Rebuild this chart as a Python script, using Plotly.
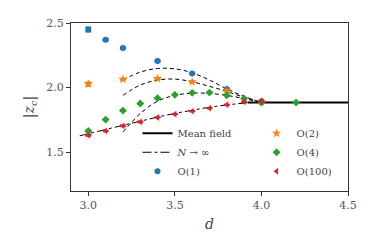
import plotly.graph_objects as go

# ---- data ----
d_o1 = [3.0, 3.1, 3.2, 3.4, 3.6, 3.8, 4.0]
z_o1 = [2.45, 2.37, 2.306, 2.205, 2.11, 1.99, 1.895]
e_o1 = [0.018, 0.008, 0.006, 0.005, 0.004, 0.004, 0.003]

d_o2 = [3.0, 3.2, 3.4, 3.6, 3.8, 4.0]
z_o2 = [2.027, 2.064, 2.07, 2.045, 1.975, 1.89]
e_o2 = [0.015, 0.005, 0.005, 0.004, 0.004, 0.003]

d_o4 = [3.0, 3.1, 3.2, 3.3, 3.4, 3.5, 3.6, 3.7, 3.8, 3.9, 4.0, 4.2]
z_o4 = [1.665, 1.753, 1.822, 1.877, 1.918, 1.944, 1.96, 1.962, 1.94, 1.916, 1.885, 1.885]
e_o4 = [0.006, 0.004, 0.004, 0.004, 0.003, 0.003, 0.003, 0.003, 0.003, 0.003, 0.003, 0.003]

d_o100 = [3.0, 3.1, 3.2, 3.3, 3.4, 3.5, 3.6, 3.7, 3.8, 3.9, 4.0]
z_o100 = [1.632, 1.665, 1.704, 1.735, 1.769, 1.795, 1.818, 1.841, 1.867, 1.89, 1.895]
e_o100 = [0.006, 0.004, 0.004, 0.004, 0.003, 0.003, 0.003, 0.003, 0.003, 0.003, 0.003]

# dashed expansion curves
d_c1 = [3.2, 3.3, 3.4, 3.5, 3.6, 3.7, 3.8, 3.9, 4.0]
z_c1 = [2.06, 2.12, 2.148, 2.145, 2.115, 2.058, 1.99, 1.932, 1.885]
d_c2 = [3.2, 3.3, 3.4, 3.5, 3.6, 3.7, 3.8, 3.9, 4.0]
z_c2 = [1.94, 2.02, 2.058, 2.066, 2.045, 2.01, 1.97, 1.925, 1.885]
d_c4 = [3.2, 3.25, 3.3, 3.4, 3.5, 3.6, 3.7, 3.8, 3.9, 4.0]
z_c4 = [1.657, 1.73, 1.8, 1.895, 1.94, 1.957, 1.955, 1.94, 1.915, 1.885]

# N -> infinity
d_inf = [2.95, 3.0, 3.1, 3.2, 3.3, 3.4, 3.5, 3.6, 3.7, 3.8, 3.9, 4.0]
z_inf = [1.627, 1.643, 1.676, 1.708, 1.74, 1.772, 1.80, 1.825, 1.848, 1.866, 1.88, 1.888]

# mean field
d_mf = [3.92, 4.5]
z_mf = [1.885, 1.885]

C1, C2, C4, C100 = "#1f77b4", "#ff7f0e", "#2ca02c", "#d62728"
FONT = "DejaVu Serif"

fig = go.Figure()

for dx, zy in [(d_c1, z_c1), (d_c2, z_c2), (d_c4, z_c4)]:
    fig.add_trace(go.Scatter(x=dx, y=zy, mode="lines", line=dict(color="black", width=1, dash="4px,3px", shape="spline"),
                             showlegend=False, hoverinfo="skip"))

fig.add_trace(go.Scatter(x=d_mf, y=z_mf, mode="lines", line=dict(color="black", width=2),
                         name="Mean field", legend="legend"))
fig.add_trace(go.Scatter(x=d_inf, y=z_inf, mode="lines", line=dict(color="black", width=1, dash="dashdot", shape="spline"),
                         name="<i>N</i> → ∞", legend="legend"))

def pts(dx, zy, ez, col, sym, size, name, leg):
    fig.add_trace(go.Scatter(x=dx, y=zy, mode="markers", name=name, legend=leg,
                             marker=dict(color=col, symbol=sym, size=size, line=dict(width=0)),
                             error_y=dict(type="data", array=ez, color=col, thickness=1.5, width=3)))

pts(d_o1, z_o1, e_o1, C1, "circle", 6, "O(1)", "legend")
pts(d_o2, z_o2, e_o2, C2, "star", 7, "O(2)", "legend2")
pts(d_o4, z_o4, e_o4, C4, "diamond", 6, "O(4)", "legend2")
pts(d_o100, z_o100, e_o100, C100, "triangle-left", 6, "O(100)", "legend2")

axis_common = dict(showline=True, linecolor="#333", linewidth=1, mirror=True, ticks="outside",
                   ticklen=4, tickcolor="#333", showgrid=False, zeroline=False, automargin=False,
                   tickfont=dict(family=FONT, size=11, color="#555"))

fig.update_layout(
    width=374, height=249,
    margin=dict(l=71, r=26, t=23, b=58),
    plot_bgcolor="white", paper_bgcolor="white",
    font=dict(family=FONT, size=10, color="#444"),
    xaxis=dict(range=[2.9, 4.5], tickvals=[3.0, 3.5, 4.0, 4.5], ticktext=["3.0", "3.5", "4.0", "4.5"],
               title=dict(text="<i>d</i>", font=dict(family=FONT, size=14, color="#444"), standoff=7), **axis_common),
    yaxis=dict(range=[1.2, 2.5], tickvals=[1.5, 2.0, 2.5], ticktext=["1.5", "2.0", "2.5"],
               title=dict(text="|<i>z<sub>c</sub></i>|", font=dict(family=FONT, size=14, color="#444"), standoff=8), **axis_common),
    legend=dict(x=0.24, y=0.43, xanchor="left", yanchor="top", bgcolor="rgba(0,0,0,0)",
                font=dict(family=FONT, size=10, color="#444"), itemwidth=30, tracegroupgap=0),
    legend2=dict(x=0.67, y=0.43, xanchor="left", yanchor="top", bgcolor="rgba(0,0,0,0)",
                 font=dict(family=FONT, size=10, color="#444"), itemwidth=30, tracegroupgap=0),
)

fig.write_html("out.html", config={"displayModeBar": False},
               post_script="document.body.style.margin='0';document.body.style.padding='0';")
